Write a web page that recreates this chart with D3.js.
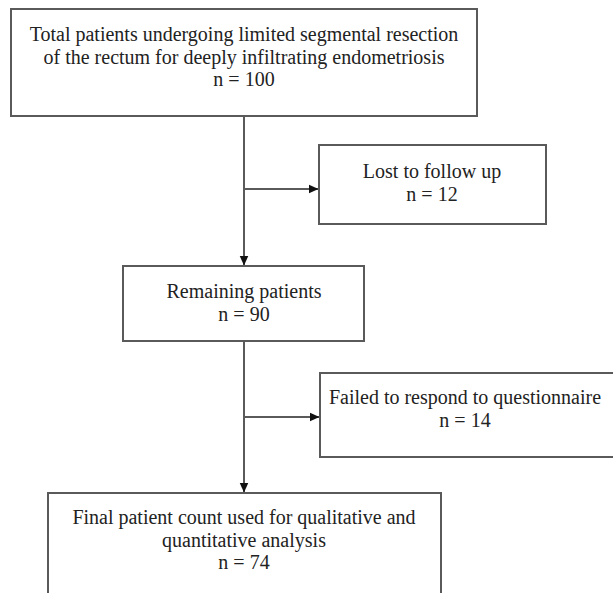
<!DOCTYPE html>
<html>
<head>
<meta charset="utf-8">
<script src="https://cdn.jsdelivr.net/npm/d3@7"></script>
<style>
  html, body { margin: 0; padding: 0; background: #fff; }
  svg { display: block; }
</style>
</head>
<body>
<script>
// ---- data ----
const stepLabels = [
  ["Total patients undergoing limited segmental resection", "of the rectum for deeply infiltrating endometriosis"],
  ["Lost to follow up"],
  ["Remaining patients"],
  ["Failed to respond to questionnaire"],
  ["Final patient count used for qualitative and", "quantitative analysis"]
];
const stepCounts = [100, 12, 90, 14, 74];
const stepKinds = ["main", "exclude", "main", "exclude", "main"];

// ---- layout (not data) ----
const W = 613, H = 593;
const boxes = [
  {x0: 11,  y0: 9,   x1: 477, y1: 116, tx: 244, ty: 41},
  {x0: 319, y0: 145, x1: 546, y1: 224, tx: 432, ty: 178},
  {x0: 123, y0: 266, x1: 364, y1: 341, tx: 244, ty: 298},
  {x0: 320, y0: 373, x1: 620, y1: 457, tx: 465, ty: 404},
  {x0: 48,  y0: 493, x1: 441, y1: 620, tx: 244, ty: 524}
];
const lineH = 22.5;
const stroke = "#5a5a5a";

const svg = d3.select("body").append("svg")
  .attr("width", W).attr("height", H)
  .attr("viewBox", `0 0 ${W} ${H}`);

svg.append("defs").append("marker")
  .attr("id", "arrow")
  .attr("viewBox", "0 0 10 10")
  .attr("refX", 10).attr("refY", 5)
  .attr("markerWidth", 10).attr("markerHeight", 10)
  .attr("markerUnits", "userSpaceOnUse")
  .attr("orient", "auto")
  .append("path")
  .attr("d", "M0,0.5 L10,5 L0,9.5 Z")
  .attr("fill", "#111");

const nodes = stepLabels.map((lab, i) => ({
  lines: lab.concat([`n = ${stepCounts[i]}`]),
  kind: stepKinds[i],
  ...boxes[i]
}));

// connectors
const mainX = 244;
const mains = nodes.filter(d => d.kind === "main");
const excl = nodes.filter(d => d.kind === "exclude");
const line = d3.line();
for (let k = 0; k < mains.length - 1; k++) {
  const a = mains[k], b = mains[k + 1], e = excl[k];
  svg.append("path")
    .attr("d", line([[mainX, a.y1], [mainX, b.y0 - 0.5]]))
    .attr("stroke", stroke).attr("stroke-width", 2).attr("fill", "none")
    .attr("marker-end", "url(#arrow)");
  const by = k === 0 ? 189 : 417;
  svg.append("path")
    .attr("d", line([[mainX, by], [e.x0 - 0.5, by]]))
    .attr("stroke", stroke).attr("stroke-width", 2).attr("fill", "none")
    .attr("marker-end", "url(#arrow)");
}

// boxes
const g = svg.selectAll("g.node").data(nodes).join("g").attr("class", "node");
g.append("rect")
  .attr("x", d => d.x0).attr("y", d => d.y0)
  .attr("width", d => d.x1 - d.x0).attr("height", d => d.y1 - d.y0)
  .attr("fill", "#fff").attr("stroke", stroke).attr("stroke-width", 2);

g.each(function(d) {
  const t = d3.select(this).append("text")
    .attr("font-family", "'Liberation Serif', 'Times New Roman', serif")
    .attr("font-size", 20)
    .attr("fill", "#222")
    .attr("text-anchor", "middle");
  d.lines.forEach((s, j) => {
    t.append("tspan").attr("x", d.tx).attr("y", d.ty + j * lineH).text(s);
  });
});
</script>
</body>
</html>
